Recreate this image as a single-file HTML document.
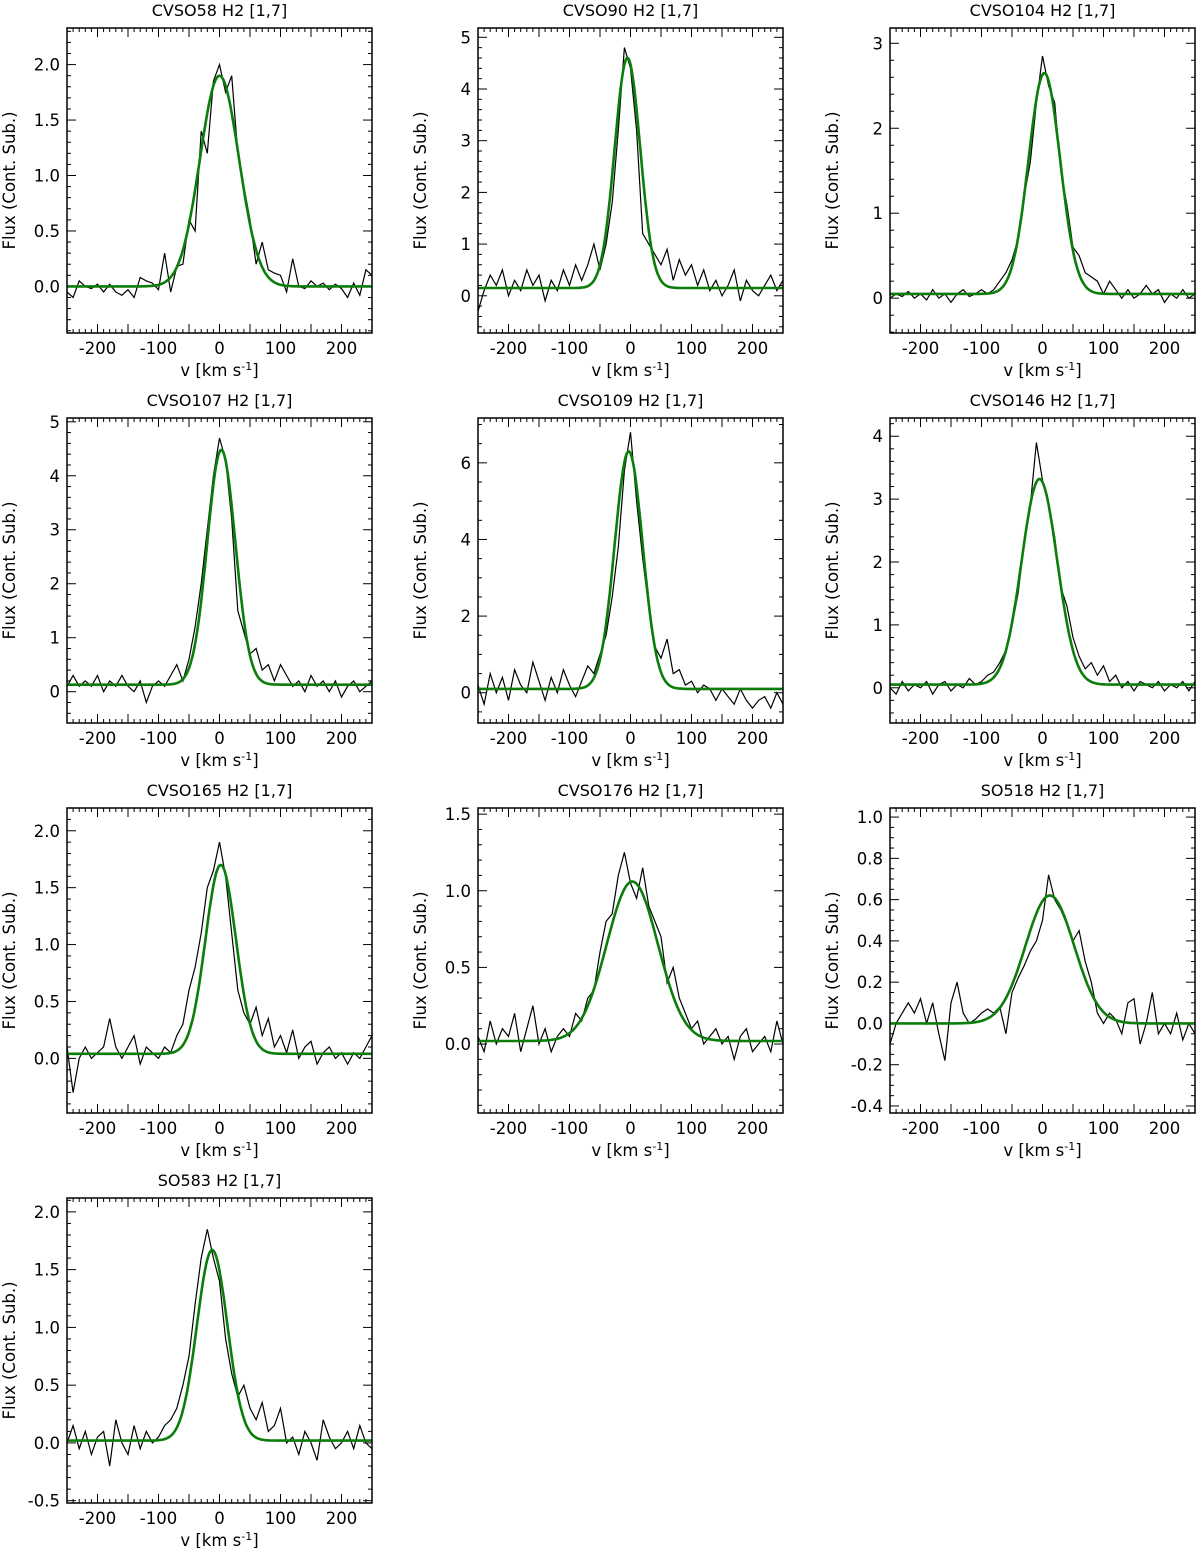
<!DOCTYPE html>
<html><head><meta charset="utf-8"><style>
body{margin:0;background:#fff;}
svg{display:block;font-family:"DejaVu Sans","Liberation Sans",sans-serif;}
</style></head><body>
<svg id="chart" width="1200" height="1548" viewBox="0 0 1200 1548"></svg>
<script>
const titles=["CVSO58 H2 [1,7]","CVSO90 H2 [1,7]","CVSO104 H2 [1,7]","CVSO107 H2 [1,7]","CVSO109 H2 [1,7]","CVSO146 H2 [1,7]","CVSO165 H2 [1,7]","CVSO176 H2 [1,7]","SO518 H2 [1,7]","SO583 H2 [1,7]"];
const velocities=[-250,-240,-230,-220,-210,-200,-190,-180,-170,-160,-150,-140,-130,-120,-110,-100,-90,-80,-70,-60,-50,-40,-30,-20,-10,0,10,20,30,40,50,60,70,80,90,100,110,120,130,140,150,160,170,180,190,200,210,220,230,240,250];
const flux1=[-0.05,-0.1,0.05,0,-0.02,0.02,-0.05,0.02,-0.05,-0.08,-0.03,-0.1,0.08,0.05,0.03,-0.03,0.3,-0.05,0.18,0.2,0.6,0.5,1.4,1.2,1.85,2.0,1.75,1.9,1.2,0.9,0.6,0.2,0.4,0.15,0.12,0.1,-0.05,0.25,0,-0.02,0.05,0,0.03,-0.03,0.02,-0.02,-0.1,0.03,-0.08,0.15,0.1];
const flux2=[-0.3,0.1,0.4,0.2,0.5,0,0.3,0.1,0.5,0.2,0.4,-0.1,0.3,0.1,0.5,0.2,0.6,0.3,0.6,1.0,0.5,1.0,1.8,3.2,4.8,4.4,3.2,1.2,1.0,0.8,0.6,0.9,0.3,0.7,0.4,0.6,0.2,0.5,0.1,0.3,0,0.2,0.5,-0.1,0.3,0.1,0,0.2,0.4,0.1,0.3];
const flux3=[0,0.05,0.02,0.08,0,0.05,-0.02,0.1,0,0.05,-0.05,0.05,0.1,0.02,0.05,0.1,0.05,0.1,0.2,0.3,0.45,0.7,1.2,1.6,2.3,2.85,2.5,2.3,1.5,1.1,0.6,0.5,0.3,0.25,0.2,0.05,0.2,0.1,0,0.1,0,0.05,0.15,0.05,0.1,-0.05,0.05,0,0.1,0,0.05];
const flux4=[0.1,0.3,0.1,0.2,0.1,0.3,0,0.2,0.1,0.3,0.1,0,0.2,-0.2,0.1,0.2,0.1,0.3,0.5,0.2,0.6,1.2,2.0,3.0,4.0,4.7,4.3,3.2,1.5,1.1,0.7,0.8,0.4,0.5,0.2,0.5,0.3,0.1,0.2,0,0.3,0.1,0.2,0,0.2,-0.1,0.1,0.2,0,0.1,0.2];
const flux5=[0.2,-0.3,0.5,0,0.4,-0.2,0.6,0.2,0,0.8,0.3,-0.2,0.4,0,0.6,0.2,-0.1,0.3,0.7,0.5,1.0,1.5,2.5,3.8,5.8,6.8,5.0,3.5,2.2,1.2,0.9,1.4,0.5,0.6,0.2,0.3,0,0.2,0.1,-0.2,0.1,-0.1,-0.3,0.1,-0.2,-0.4,-0.2,-0.1,-0.4,0,-0.3];
const flux6=[0,-0.1,0.1,-0.05,0.05,0,0.1,-0.1,0.05,0.1,-0.05,0.05,0,0.15,0.05,0.1,0.2,0.25,0.4,0.6,1.0,1.5,2.3,2.9,3.9,3.3,2.9,2.4,1.6,1.3,0.8,0.5,0.3,0.4,0.2,0.35,0.1,0.2,0,0.1,-0.05,0.1,0.05,0,0.1,-0.05,0.05,0,0.1,-0.05,0.1];
const flux7=[0.1,-0.3,0,0.1,0,0.05,0.1,0.35,0.1,0,0.1,0.2,-0.05,0.1,0.05,0,0.1,0.05,0.2,0.3,0.6,0.8,1.1,1.5,1.65,1.9,1.6,1.1,0.6,0.4,0.3,0.45,0.2,0.35,0.1,0.2,0.05,0.25,0,0.1,0.15,-0.05,0.05,0.1,0,0.05,-0.05,0.05,0,0.1,0.2];
const flux8=[0.05,-0.05,0.15,0,0.1,0.05,0.2,-0.05,0.1,0.25,0,0.1,-0.05,0.05,0.1,0.05,0.2,0.15,0.3,0.35,0.6,0.8,0.85,1.1,1.25,1.05,0.95,1.15,0.9,0.8,0.7,0.4,0.5,0.3,0.2,0.1,0.15,0,0.05,0.1,0,0.05,-0.1,0.05,0.1,-0.05,0,0.05,-0.05,0.15,0];
const flux9=[-0.1,0,0.05,0.1,0.05,0.12,0,0.1,-0.05,-0.18,0.1,0.2,0.05,0,0.02,0.05,0.07,0.05,0.08,-0.05,0.15,0.22,0.28,0.35,0.4,0.5,0.72,0.6,0.55,0.48,0.4,0.45,0.3,0.2,0.05,0,0.05,0.02,-0.05,0.1,0.12,-0.1,0,0.15,-0.05,0,-0.05,0.05,-0.08,0,-0.05];
const flux10=[0,0.15,-0.05,0.1,-0.1,0.05,0.1,-0.2,0.2,0,-0.1,0.15,-0.05,0.1,0,0.05,0.15,0.2,0.3,0.5,0.75,1.2,1.6,1.85,1.6,1.4,0.9,0.6,0.4,0.5,0.3,0.2,0.35,0.1,0.15,0.3,0,0.05,-0.1,0.1,0,-0.15,0.2,0.05,-0.05,0,0.1,-0.05,0.15,0,-0.05];
const fluxes=[flux1,flux2,flux3,flux4,flux5,flux6,flux7,flux8,flux9,flux10];
const fitAmp=[1.9,4.45,2.6,4.35,6.2,3.27,1.66,1.04,0.62,1.65];
const fitCenter=[0,-5,3,3,-3,-5,2,3,12,-12];
const fitSigma=[32,21,26,23,23,29,25,42,40,25];
const fitBase=[0,0.15,0.05,0.13,0.1,0.05,0.04,0.02,0,0.02];
const yMin=[-0.42,-0.72,-0.41,-0.58,-0.79,-0.56,-0.48,-0.45,-0.434,-0.52];
const yMax=[2.33,5.18,3.18,5.07,7.17,4.29,2.2,1.54,1.044,2.12];
const yMajor=[0.5,1,1,1,2,1,0.5,0.5,0.2,0.5];
const yMinor=[0.1,0.2,0.2,0.2,0.5,0.2,0.1,0.1,0.05,0.1];
const yDec=[1,0,0,0,0,0,1,1,1,1];

const NS="http://www.w3.org/2000/svg";
const svg=document.getElementById('chart');
function mk(tag,attrs,parent){const e=document.createElementNS(NS,tag);for(const k in attrs)e.setAttribute(k,attrs[k]);(parent||svg).appendChild(e);return e;}
const colL=[67,478,890],rowT=[28,418,808,1198],W=305,H=305;
for(let p=0;p<10;p++){
  const L=colL[p%3],T=rowT[Math.floor(p/3)];
  const g=mk('g',{});
  
  
  const xs=v=>L+(v+250)/500*W;
  const ys=f=>T+H-(f-yMin[p])/(yMax[p]-yMin[p])*H;
  const title=mk('text',{x:L+W/2,y:T-12,'text-anchor':'middle','font-size':16},g);title.textContent=titles[p];
  
  
  const cp='cp'+p;const cd=mk('clipPath',{id:cp},g);mk('rect',{x:L,y:T,width:W,height:H},cd);
  for(let v=-250;v<=250;v+=10){
    const x=xs(v),len=(v%50===0)?9:4;
    mk('line',{x1:x,x2:x,y1:T+H,y2:T+H-len,stroke:'#000','stroke-width':1},g);
    mk('line',{x1:x,x2:x,y1:T,y2:T+len,stroke:'#000','stroke-width':1},g);
    if(v%100===0&&Math.abs(v)<250){const t=mk('text',{x:x,y:T+H+21,'text-anchor':'middle','font-size':16.5},g);t.textContent=v;
      
      }
  }
  const s0=Math.ceil(yMin[p]/yMinor[p]-1e-6);
  for(let k=s0;k*yMinor[p]<=yMax[p]+1e-9;k++){
    const f=k*yMinor[p];const y=ys(f);
    const isMaj=Math.abs(f/yMajor[p]-Math.round(f/yMajor[p]))<1e-6;
    const len=isMaj?9:4;
    mk('line',{x1:L,x2:L+len,y1:y,y2:y,stroke:'#000','stroke-width':1},g);
    mk('line',{x1:L+W,x2:L+W-len,y1:y,y2:y,stroke:'#000','stroke-width':1},g);
    if(isMaj){const t=mk('text',{x:L-7,y:y+6,'text-anchor':'end','font-size':16.5},g);t.textContent=(Math.abs(f)<1e-9?0:f).toFixed(yDec[p]);
      
      }
  }
  const d=velocities.map((v,i)=>(i?'L':'M')+xs(v).toFixed(1)+','+ys(fluxes[p][i]).toFixed(1)).join('');
  const ln=mk('path',{d:d,fill:'none',stroke:'#000','stroke-width':1.2,'clip-path':'url(#'+cp+')'},g);
  
  
  let fd='';for(let v=-250;v<=250;v+=2){const f=fitBase[p]+fitAmp[p]*Math.exp(-0.5*Math.pow((v-fitCenter[p])/fitSigma[p],2));fd+=(fd?'L':'M')+xs(v).toFixed(1)+','+ys(f).toFixed(1);}
  const fl=mk('path',{d:fd,fill:'none',stroke:'#0a7d0a','stroke-width':2.6,'clip-path':'url(#'+cp+')'},g);
  
  
  const fr=mk('rect',{x:L,y:T,width:W,height:H,fill:'none',stroke:'#000','stroke-width':1.5},g);
  
  
  const xl=mk('text',{x:L+W/2,y:T+H+43,'text-anchor':'middle','font-size':16.5},g);
  xl.innerHTML='v [km s<tspan dy="-6" font-size="11">-1</tspan><tspan dy="6">]</tspan>';
  
  
  const yl=mk('text',{x:0,y:0,'text-anchor':'middle','font-size':16.5,transform:'translate('+(L-52)+','+(T+H/2)+') rotate(-90)'},g);
  yl.textContent='Flux (Cont. Sub.)';
  
  
}
</script>
</body></html>
